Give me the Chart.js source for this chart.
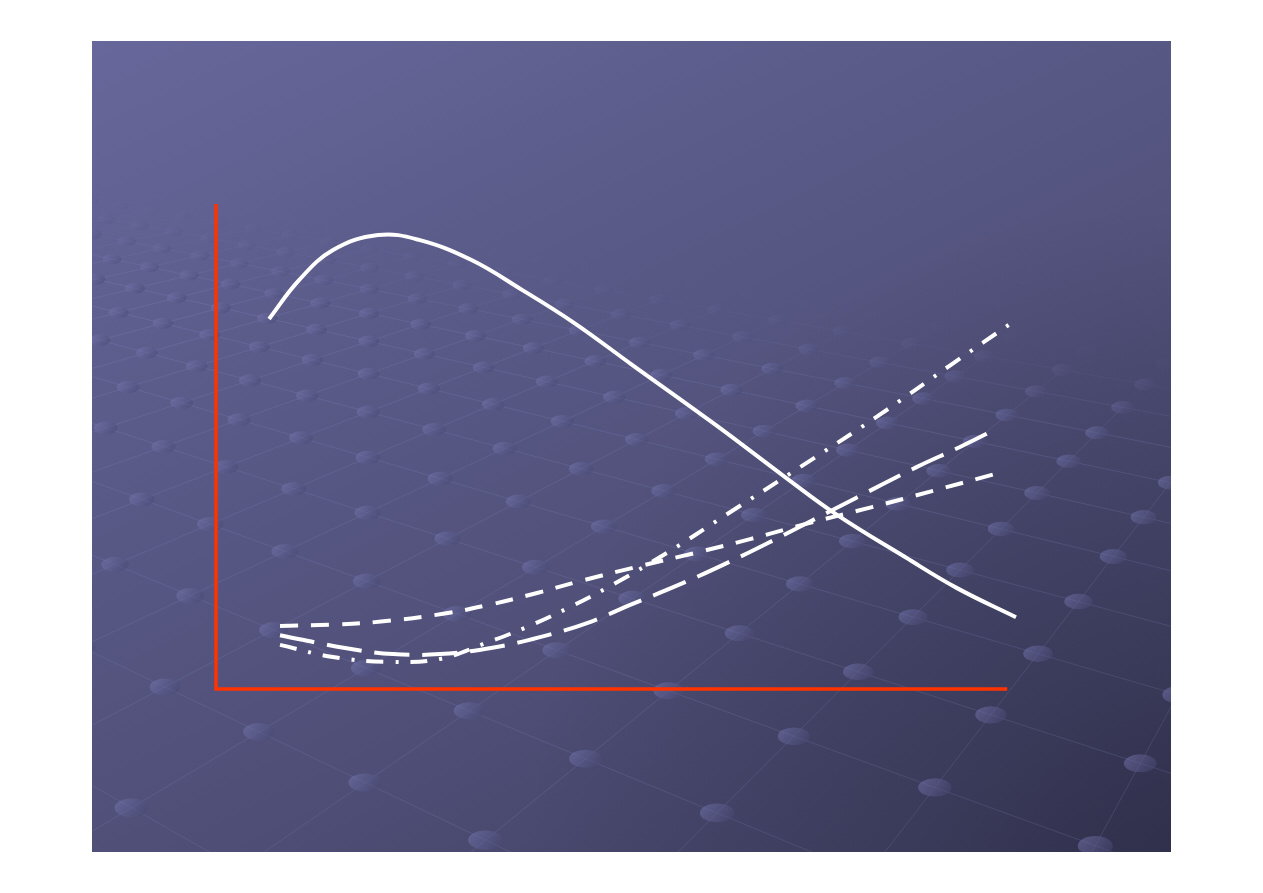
<!DOCTYPE html>
<html>
<head>
<meta charset="utf-8">
<script src="https://cdn.jsdelivr.net/npm/chart.js@4/dist/chart.umd.min.js"></script>
<style>
  body { margin: 0; background: #ffffff; }
  #wrap { width: 1263px; height: 893px; }
</style>
</head>
<body>
<div id="wrap"><canvas id="curves" width="1263" height="893"></canvas></div>
<script>
// curve samples (x and y both on a 0..100 scale)
var solidX = [6.63, 10.38, 14.63, 20.25, 25.38, 31.88, 38.25, 44.75, 51.88, 62.5, 71.13, 77.63, 86.13, 92.63, 100];
var solidY = [76.3, 84.3, 90.5, 93.6, 92.6, 88.5, 82.3, 75.5, 67.0, 54.4, 43.7, 35.9, 27.2, 20.8, 14.8];

var dashDotX = [8.0, 14.6, 21.75, 28.0, 33.75, 38.9, 44.25, 49.25, 56.5, 63.75, 73.25, 82.75, 92, 100];
var dashDotY = [9.1, 6.6, 5.6, 6.2, 9.5, 12.8, 16.9, 21.2, 28.2, 35.9, 46.0, 56.3, 67.0, 76.1];

var longDashX = [8.0, 16.13, 22.13, 28, 34.38, 40.5, 46.38, 52, 57.75, 63.38, 69, 80, 87.63, 93, 97.75];
var longDashY = [11.1, 8.45, 7.2, 7.2, 8.45, 10.7, 13.6, 17.5, 21.4, 25.6, 30.1, 39.4, 45.8, 49.9, 53.8];

var shortDashX = [8, 14.88, 20.63, 28.38, 34.25, 40.13, 45.63, 52.38, 61, 66.75, 73.63, 82, 89.5, 97.75];
var shortDashY = [13.0, 13.3, 13.9, 15.5, 17.4, 19.8, 22.3, 25.1, 28.5, 30.9, 34.0, 37.5, 40.8, 44.5];

// extent of the red axes
var axisXEnd = 98.9;
var axisYTop = 100;

function pts(xs, ys) {
  var out = [];
  for (var i = 0; i < xs.length; i++) out.push({ x: xs[i], y: ys[i] });
  return out;
}

// slide background: gradient + perspective dot grid
var slideBg = {
  id: "slideBg",
  beforeDraw: function (chart) {
    var ctx = chart.ctx;
    var L = 92, T = 41, R = 1171, B = 852;
    ctx.save();
    ctx.fillStyle = "#ffffff";
    ctx.fillRect(0, 0, chart.width, chart.height);
    var g = ctx.createLinearGradient(L, T, 621, 1121);
    g.addColorStop(0, "#67679b");
    g.addColorStop(1, "#404062");
    ctx.fillStyle = g;
    ctx.fillRect(L, T, R - L, B - T);
    var rg = ctx.createRadialGradient(R, B, 0, R, B, 650);
    rg.addColorStop(0, "rgba(15,15,30,0.32)");
    rg.addColorStop(1, "rgba(15,15,30,0)");
    ctx.fillStyle = rg;
    ctx.fillRect(L, T, R - L, B - T);
    ctx.beginPath();
    ctx.rect(L, T, R - L, B - T);
    ctx.clip();

    var F = 1395, cx = 631, yh = -60, th = 34.5 * Math.PI / 180;
    var sn = Math.sin(th), cs = Math.cos(th);
    var X0 = 0.0985, Z0 = 1.598, s = 0.187;
    function world(u, v) {
      return [X0 + s * (u * sn + v * cs), Z0 + s * (u * cs - v * sn)];
    }
    function proj(p) { return [cx + F * p[0] / p[1], yh + F / p[1]]; }
    function fade(x, y) {
      var yt = 185 + 0.16 * (x - 92);
      return Math.max(0, Math.min(1, (y - yt) / 90));
    }

    // faint grid lines
    ctx.lineWidth = 1;
    for (var u = -40; u <= 40; u++) {
      for (var v = -40; v <= 40; v++) {
        var a = world(u, v);
        if (a[1] < 1.0 || a[1] > 8) continue;
        var pa = proj(a);
        if (pa[0] < -200 || pa[0] > 1500) continue;
        var nbrs = [world(u + 1, v), world(u, v + 1)];
        for (var k = 0; k < 2; k++) {
          var b = nbrs[k];
          if (b[1] < 1.0) continue;
          var pb = proj(b);
          var al = Math.min(fade(pa[0], pa[1]), fade(pb[0], pb[1])) * 0.2;
          if (al <= 0) continue;
          ctx.strokeStyle = "rgba(140,140,200," + al + ")";
          ctx.beginPath();
          ctx.moveTo(pa[0], pa[1]);
          ctx.lineTo(pb[0], pb[1]);
          ctx.stroke();
        }
      }
    }
    // dots
    for (var u2 = -40; u2 <= 40; u2++) {
      for (var v2 = -40; v2 <= 40; v2++) {
        var w = world(u2, v2);
        if (w[1] < 1.0 || w[1] > 8) continue;
        var p = proj(w);
        if (p[0] < 40 || p[0] > 1230 || p[1] < 150 || p[1] > 900) continue;
        var sc = F / w[1];
        var rx = 5 + 0.0138 * sc;
        var ry = rx * 0.55;
        var al2 = fade(p[0], p[1]) * 0.5;
        if (al2 <= 0) continue;
        var dg = ctx.createLinearGradient(p[0] - rx, p[1] - ry, p[0] + rx * 0.5, p[1] + ry);
        dg.addColorStop(0, "rgba(125,125,185," + al2 + ")");
        dg.addColorStop(1, "rgba(75,75,120," + al2 + ")");
        ctx.fillStyle = dg;
        ctx.beginPath();
        ctx.ellipse(p[0], p[1], rx, ry, 0, 0, Math.PI * 2);
        ctx.fill();
      }
    }
    ctx.restore();
  }
};

// red L-shaped axes
var redAxes = {
  id: "redAxes",
  beforeDatasetsDraw: function (chart) {
    var ctx = chart.ctx;
    var xs = chart.scales.x, ys = chart.scales.y;
    var x0 = xs.getPixelForValue(0), y0 = ys.getPixelForValue(0);
    ctx.save();
    ctx.strokeStyle = "#ff3300";
    ctx.lineWidth = 3.5;
    ctx.lineCap = "butt";
    ctx.beginPath();
    ctx.moveTo(x0, ys.getPixelForValue(axisYTop));
    ctx.lineTo(x0, y0);
    ctx.lineTo(xs.getPixelForValue(axisXEnd), y0);
    ctx.stroke();
    ctx.restore();
  }
};

function series(xs, ys, dash) {
  return {
    data: pts(xs, ys),
    borderColor: "#ffffff",
    borderWidth: 4,
    borderDash: dash,
    borderCapStyle: "butt",
    pointRadius: 0,
    fill: false,
    tension: 0.4,
    clip: false
  };
}

new Chart("curves", {
  type: "line",
  data: {
    datasets: [
      series(solidX, solidY, []),
      series(dashDotX, dashDotY, [17, 12, 3, 12]),
      series(longDashX, longDashY, [35, 13]),
      series(shortDashX, shortDashY, [18, 13])
    ]
  },
  options: {
    responsive: false,
    animation: false,
    layout: { padding: { left: 216, right: 247, top: 204, bottom: 204 } },
    scales: {
      x: { type: "linear", min: 0, max: 100, display: false },
      y: { type: "linear", min: 0, max: 100, display: false }
    },
    plugins: {
      legend: { display: false },
      tooltip: { enabled: false }
    }
  },
  plugins: [slideBg, redAxes]
});
</script>
</body>
</html>
